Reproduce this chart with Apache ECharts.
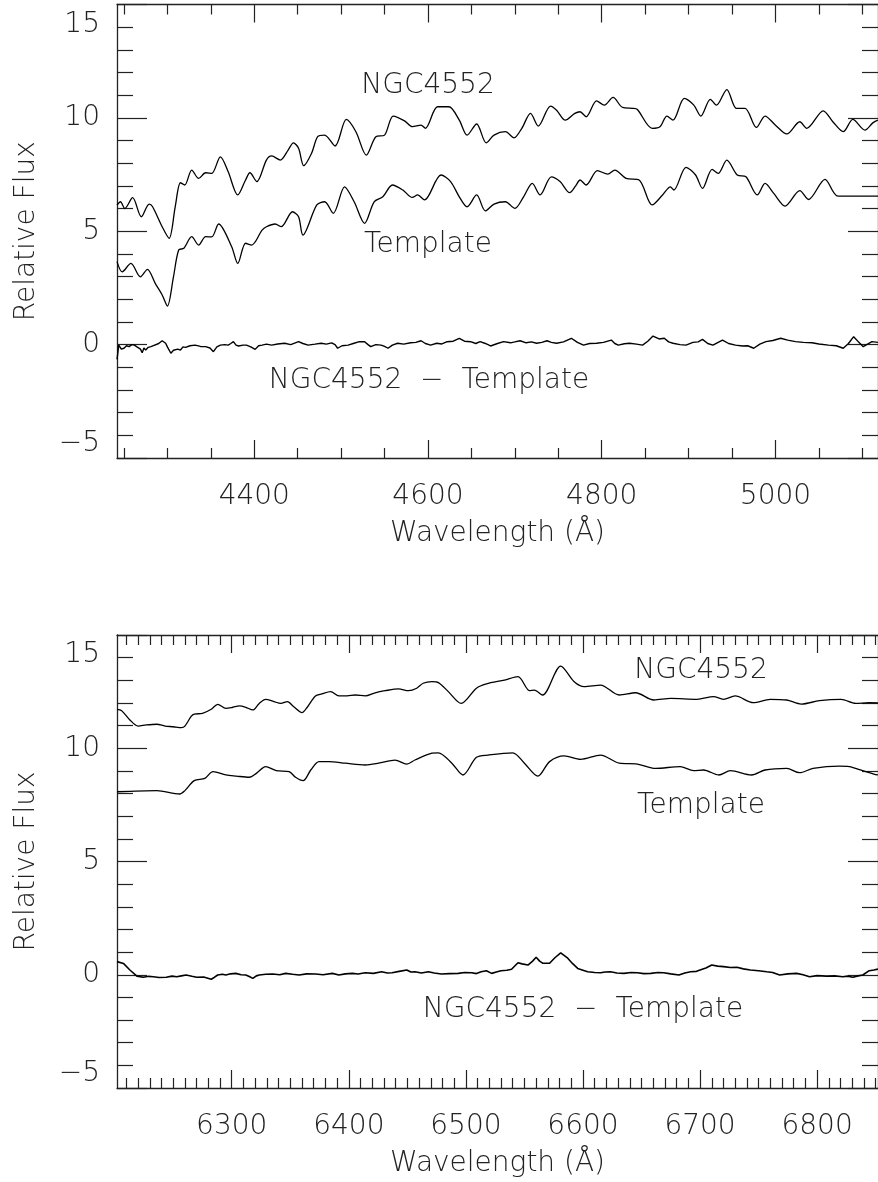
<!DOCTYPE html>
<html>
<head>
<meta charset="utf-8">
<script src="https://cdn.jsdelivr.net/npm/echarts@6/dist/echarts.min.js"></script>
<style>
html,body{margin:0;padding:0;background:#fff;overflow:hidden;}
#chart{width:878px;height:1182px;}
</style>
</head>
<body>
<div id="chart"></div>
<script>
// ---------- axis ranges / ticks ----------
const topRange = [4242, 5118];
const botRange = [6202, 6852];
const topMajorTicks = [4400, 4600, 4800, 5000];
const botMajorTicks = [6300, 6400, 6500, 6600, 6700, 6800];
const yTickLabels = [-5, 0, 5, 10, 15];

// ---------- top panel data (wavelength, relative flux) ----------
const topNgc = [[4242,6.15],[4246,6.30],[4251,6.0],[4260,6.48],[4270,5.64],[4279,6.2],[4283,6.08],[4294,5.2],[4302,4.69],[4309,6.08],[4315,7.14],[4320,7.04],[4328,7.7],[4336,7.33],[4344,7.58],[4351,7.55],[4361,8.28],[4370,7.62],[4381,6.6],[4390,7.26],[4395,7.58],[4403,7.19],[4414,8.14],[4420,8.32],[4430,8.14],[4439,8.58],[4445,8.90],[4451,8.66],[4457,7.89],[4466,8.44],[4473,9.17],[4481,9.24],[4493,8.76],[4506,9.93],[4517,9.39],[4529,8.36],[4540,9.17],[4550,9.24],[4560,10.08],[4573,9.87],[4582,9.61],[4592,9.68],[4597,9.54],[4611,10.49],[4624,10.49],[4636,9.90],[4645,9.24],[4656,9.73],[4667,8.90],[4676,9.24],[4689,9.39],[4699,9.12],[4708,9.54],[4718,10.2],[4727,9.64],[4741,10.52],[4748,10.34],[4758,9.90],[4769,10.2],[4775,10.27],[4782,10.05],[4794,10.75],[4803,10.56],[4813,10.90],[4824,10.46],[4836,10.42],[4841,10.37],[4858,9.54],[4867,9.61],[4875,10.08],[4882,9.90],[4895,10.86],[4906,10.56],[4914,10.08],[4925,10.82],[4932,10.56],[4944,11.25],[4955,10.42],[4965,10.42],[4978,9.58],[4988,10.08],[5000,9.68],[5013,9.29],[5028,9.83],[5036,9.54],[5055,10.31],[5066,9.83],[5078,9.39],[5089,9.93],[5103,9.46],[5112,9.78],[5118,9.9]];
const topTemplate = [[4242,3.66],[4248,3.21],[4258,3.58],[4269,2.99],[4277,3.32],[4286,2.70],[4294,2.19],[4300,1.70],[4307,2.99],[4313,4.17],[4319,4.25],[4328,4.76],[4336,4.39],[4344,4.76],[4351,4.75],[4359,5.32],[4374,4.32],[4381,3.58],[4390,4.47],[4397,4.39],[4409,5.05],[4414,5.2],[4424,5.32],[4431,5.2],[4444,5.86],[4451,5.64],[4456,4.83],[4472,6.16],[4481,6.30],[4491,5.79],[4504,6.96],[4515,6.30],[4527,5.35],[4538,6.30],[4548,6.52],[4559,7.04],[4571,6.82],[4582,6.49],[4588,6.60],[4596,6.38],[4615,7.48],[4626,7.19],[4636,6.52],[4645,6.08],[4656,6.60],[4666,5.90],[4676,6.20],[4689,6.30],[4700,6.01],[4710,6.52],[4720,7.11],[4729,6.60],[4742,7.40],[4752,7.19],[4763,6.70],[4770,7.0],[4775,7.26],[4782,7.04],[4795,7.67],[4807,7.52],[4815,7.70],[4828,7.33],[4843,7.26],[4858,6.16],[4870,6.60],[4879,6.96],[4883,6.82],[4897,7.82],[4908,7.48],[4916,6.89],[4927,7.73],[4934,7.55],[4944,8.14],[4956,7.48],[4966,7.40],[4979,6.60],[4988,7.11],[4998,6.67],[5011,6.11],[5028,6.79],[5038,6.40],[5057,7.29],[5072,6.55],[5118,6.55]];
const topResidual = [[4242,-0.65],[4243,-0.35],[4244,-0.02],[4247,-0.2],[4250,-0.16],[4253,-0.05],[4256,-0.09],[4259,0.0],[4262,-0.02],[4265,-0.1],[4267,-0.06],[4269,-0.2],[4271,-0.36],[4273,-0.15],[4275,-0.24],[4278,-0.12],[4281,-0.09],[4284,-0.04],[4286,-0.02],[4290,0.05],[4294,0.17],[4296,0.1],[4298,0.06],[4300,-0.1],[4304,-0.38],[4307,-0.25],[4309,-0.31],[4312,-0.2],[4315,-0.24],[4318,-0.1],[4321,-0.12],[4326,-0.05],[4332,-0.02],[4338,-0.08],[4344,-0.09],[4349,-0.15],[4353,-0.31],[4357,-0.1],[4361,-0.02],[4366,0.0],[4370,-0.02],[4373,0.05],[4376,0.13],[4379,-0.02],[4382,-0.06],[4387,-0.02],[4391,-0.02],[4396,-0.1],[4401,-0.21],[4405,-0.05],[4409,-0.02],[4414,0.02],[4420,-0.02],[4427,0.03],[4435,0.06],[4442,0.0],[4451,0.13],[4456,0.05],[4462,-0.02],[4470,0.02],[4477,0.06],[4483,0.02],[4489,0.08],[4493,0.0],[4496,-0.16],[4501,-0.05],[4508,-0.02],[4514,0.05],[4521,0.13],[4527,0.13],[4531,0.0],[4534,-0.09],[4540,0.0],[4546,-0.02],[4550,-0.08],[4554,-0.16],[4559,-0.02],[4565,0.06],[4572,0.02],[4580,0.08],[4586,0.1],[4592,0.17],[4597,0.05],[4603,-0.02],[4610,0.06],[4616,0.03],[4622,0.13],[4629,0.15],[4636,0.28],[4642,0.15],[4649,0.13],[4655,0.05],[4660,0.13],[4666,0.05],[4672,-0.06],[4680,0.05],[4687,0.13],[4695,0.08],[4700,0.12],[4706,0.17],[4713,0.08],[4719,0.12],[4725,0.06],[4731,0.1],[4737,0.17],[4742,0.1],[4748,0.06],[4756,0.12],[4765,0.28],[4772,0.1],[4779,-0.02],[4786,0.05],[4794,0.06],[4802,0.1],[4811,0.2],[4815,0.05],[4819,-0.02],[4826,0.04],[4832,0.06],[4840,0.02],[4847,-0.02],[4853,0.15],[4859,0.38],[4866,0.25],[4872,0.28],[4877,0.12],[4882,0.06],[4890,0.0],[4897,-0.02],[4905,0.1],[4911,0.12],[4916,0.23],[4922,0.05],[4928,-0.02],[4934,0.1],[4939,0.2],[4946,0.05],[4954,-0.02],[4962,-0.06],[4968,-0.05],[4975,-0.16],[4982,0.02],[4989,0.13],[4997,0.18],[5006,0.28],[5014,0.2],[5023,0.13],[5032,0.1],[5042,0.08],[5050,0.03],[5061,-0.02],[5070,-0.05],[5078,-0.16],[5084,0.05],[5090,0.35],[5096,0.1],[5101,-0.09],[5106,0.02],[5111,0.13],[5118,0.1]];

// ---------- bottom panel data ----------
const botNgc = [[6202,11.72],[6206,11.66],[6213,11.25],[6220,10.98],[6227,11.03],[6236,11.06],[6243,10.98],[6250,10.95],[6257,10.91],[6260,10.98],[6265.5,11.42],[6268,11.51],[6275,11.54],[6282.5,11.72],[6288,11.94],[6295,11.76],[6301,11.81],[6306.5,11.87],[6312,11.81],[6318,11.69],[6323.5,11.98],[6329,12.16],[6336,12.06],[6342,11.98],[6347.5,12.06],[6353,11.83],[6360,11.57],[6364.5,11.81],[6371.5,12.31],[6377,12.40],[6384.5,12.50],[6391.5,12.31],[6398.5,12.31],[6405.5,12.35],[6414,12.31],[6422.5,12.45],[6431,12.54],[6442.5,12.62],[6451,12.54],[6458,12.65],[6463.5,12.87],[6471,12.94],[6476.5,12.90],[6485,12.50],[6496,11.98],[6509,12.65],[6517.5,12.84],[6533,13.01],[6544.5,13.16],[6554.5,12.54],[6558.5,12.57],[6565.5,12.35],[6581,13.63],[6592.5,12.94],[6601,12.72],[6615,12.79],[6631,12.35],[6645,12.45],[6660.5,12.13],[6675,12.20],[6697.5,12.16],[6711.5,12.28],[6720,12.16],[6730,12.31],[6745.5,12.01],[6760,12.16],[6774,12.13],[6786.5,11.95],[6802,12.10],[6820.5,12.16],[6833,11.98],[6844.5,12.01],[6852,12.0]];
const botTemplate = [[6202,8.08],[6236,8.13],[6255.5,7.98],[6260,8.13],[6268,8.57],[6277,8.67],[6284,8.97],[6295,8.82],[6304,8.77],[6315,8.72],[6321,8.89],[6329,9.19],[6338,9.01],[6349,8.97],[6354.5,8.72],[6361,8.57],[6367.5,9.04],[6374.5,9.41],[6383,9.41],[6397,9.34],[6414,9.26],[6425.5,9.34],[6439.5,9.48],[6449.5,9.30],[6456.5,9.48],[6471,9.78],[6476.5,9.80],[6488,9.34],[6497.5,8.82],[6509,9.60],[6519,9.70],[6540,9.80],[6550,9.34],[6561.5,8.77],[6571.5,9.41],[6584,9.66],[6598,9.51],[6615,9.70],[6631,9.34],[6646.5,9.30],[6662,9.11],[6683,9.19],[6694.5,9.01],[6703,9.04],[6716,8.82],[6726,9.01],[6744,8.82],[6755.5,9.04],[6774,9.11],[6785,8.92],[6796.5,9.11],[6819,9.21],[6827.5,9.19],[6839,9.01],[6848.5,8.86],[6852,8.82]];
const botResidual = [[6202,0.58],[6207.5,0.50],[6213,0.21],[6219,-0.06],[6224.5,-0.11],[6229,-0.07],[6233,-0.09],[6238,-0.12],[6244,-0.11],[6249,-0.06],[6253,-0.09],[6257,-0.05],[6261,-0.01],[6266,-0.07],[6270,-0.11],[6276,-0.1],[6282.5,-0.20],[6285,-0.12],[6288,-0.01],[6292,0.02],[6295,-0.01],[6299,0.04],[6303.5,0.06],[6308,0.0],[6312,-0.01],[6315,-0.08],[6318,-0.16],[6321,-0.05],[6323.5,-0.01],[6329,0.02],[6335,0.03],[6341,0.0],[6346,0.06],[6352,0.02],[6357.5,-0.01],[6364,0.04],[6371.5,0.03],[6378,0.0],[6386,0.06],[6391.5,-0.01],[6397,0.04],[6403,0.06],[6408,0.03],[6414,0.09],[6421,0.06],[6428,0.13],[6433,0.08],[6437,0.09],[6443,0.15],[6449.5,0.21],[6453,0.12],[6456.5,0.13],[6462,0.08],[6468,0.13],[6473,0.08],[6479,0.03],[6486,0.05],[6493.5,0.06],[6499,0.1],[6505,0.09],[6509,0.05],[6513,0.13],[6517.5,0.18],[6522,0.06],[6526,0.12],[6530,0.18],[6535,0.2],[6539,0.24],[6544.5,0.53],[6548,0.48],[6553,0.43],[6557,0.6],[6560,0.77],[6563,0.6],[6565.5,0.51],[6571.5,0.51],[6576,0.75],[6581,0.97],[6587,0.73],[6591,0.5],[6595.5,0.28],[6600,0.2],[6604,0.13],[6610,0.1],[6615,0.09],[6619,0.12],[6623.5,0.13],[6629,0.08],[6635,0.06],[6641,0.1],[6646.5,0.09],[6652,0.05],[6658,0.06],[6664,0.1],[6669,0.09],[6675,0.04],[6682,-0.01],[6687,0.08],[6692,0.13],[6697,0.15],[6700,0.21],[6705,0.3],[6710,0.43],[6715,0.38],[6720,0.36],[6726,0.32],[6731.5,0.33],[6737,0.26],[6743,0.21],[6750,0.18],[6757,0.13],[6762,0.1],[6768,-0.01],[6775,0.04],[6782.5,0.06],[6788,0.0],[6793.5,-0.09],[6800,-0.04],[6808,-0.06],[6815,-0.05],[6822,-0.09],[6826,-0.06],[6830.5,-0.11],[6835,-0.05],[6839,-0.01],[6844.5,0.18],[6848.5,0.21],[6852,0.25]];

// ---------- build ----------
const FONT = '"DejaVu Sans", sans-serif';
const TXT = '#222';
function minorList(a, b, step, majors){
  const out = [];
  for (let v = a; v <= b; v += step) if (majors.indexOf(v) < 0) out.push(v);
  return out;
}
const topMinor = minorList(4250, 5100, 50, topMajorTicks);
const botMinor = minorList(6210, 6850, 10, botMajorTicks);

function xAxes(grid, range, majors, minors, withLabels){
  const base = {gridIndex: grid, type: 'value', min: range[0], max: range[1], splitLine: {show: false}};
  const res = [];
  ['bottom', 'top'].forEach(function(pos){
    const isLab = withLabels && pos === 'bottom';
    res.push(Object.assign({}, base, {
      position: pos,
      axisLine: {show: true, onZero: false, lineStyle: {color: TXT, width: 1.3}},
      axisTick: {show: true, inside: true, length: 18, customValues: majors, lineStyle: {color: TXT, width: 1.2}},
      axisLabel: {show: isLab, customValues: majors, margin: 25, color: TXT, fontFamily: FONT, fontSize: 28, fontWeight: 200,
        formatter: function(v){ return String(v); }},
      name: isLab ? 'Wavelength (Å)' : '', nameLocation: 'middle', nameGap: 62,
      nameTextStyle: {color: TXT, fontFamily: FONT, fontSize: 28, fontWeight: 200}
    }));
    res.push(Object.assign({}, base, {
      position: pos,
      axisLine: {show: false, onZero: false},
      axisTick: {show: true, inside: true, length: 10, customValues: minors, lineStyle: {color: TXT, width: 1.2}},
      axisLabel: {show: false}
    }));
  });
  return res;
}
function yAxes(grid){
  const res = [];
  ['left', 'right'].forEach(function(pos){
    const isLab = pos === 'left';
    res.push({
      gridIndex: grid, type: 'value', position: pos, min: -5, max: 15, interval: 5,
      splitLine: {show: false},
      axisLine: {show: true, onZero: false, lineStyle: {color: TXT, width: 1.3}},
      axisTick: {show: true, inside: true, length: 30, lineStyle: {color: TXT, width: 1.2}},
      minorTick: {show: true, splitNumber: 5, length: 16, lineStyle: {color: TXT, width: 1.2}},
      axisLabel: {show: isLab, margin: 17, color: TXT, fontFamily: FONT, fontSize: 28, fontWeight: 200,
        padding: [6, 0, 0, 0],
        formatter: function(v){ return yTickLabels.indexOf(v) >= 0 ? (v < 0 ? '\u2212' + Math.abs(v) : String(v)) : ''; },
        verticalAlignMinLabel: 'bottom', verticalAlignMaxLabel: 'top'},
      name: isLab ? 'Relative Flux' : '', nameLocation: 'middle', nameGap: 76,
      nameTextStyle: {color: TXT, fontFamily: FONT, fontSize: 28, fontWeight: 200}
    });
  });
  return res;
}
function lineSeries(data, xi, yi, smooth, width){
  return {type: 'line', data: data, xAxisIndex: xi, yAxisIndex: yi, showSymbol: false, symbol: 'none',
    smooth: smooth, lineStyle: {color: '#000', width: width}, silent: true, clip: true};
}
function label(text, x, y){
  return {type: 'text', x: x, y: y, style: {text: text, fill: TXT, font: '200 28px ' + FONT, textAlign: 'center', textVerticalAlign: 'middle'}};
}

const chart = echarts.init(document.getElementById('chart'), null, {renderer: 'canvas'});
chart.setOption({
  animation: false,
  backgroundColor: '#fff',
  grid: [
    {left: 117, top: 4.5, width: 765, height: 453.5},
    {left: 117, top: 635, width: 765, height: 453}
  ],
  xAxis: xAxes(0, topRange, topMajorTicks, topMinor, true).concat(xAxes(1, botRange, botMajorTicks, botMinor, true)),
  yAxis: yAxes(0).concat(yAxes(1)),
  series: [
    lineSeries(topNgc, 0, 0, 0.3, 1.3),
    lineSeries(topTemplate, 0, 0, 0.3, 1.3),
    lineSeries(topResidual, 0, 0, false, 1.4),
    lineSeries(botNgc, 4, 2, 0.3, 1.3),
    lineSeries(botTemplate, 4, 2, 0.3, 1.3),
    lineSeries(botResidual, 4, 2, false, 1.6)
  ],
  graphic: [
    label('NGC4552', 428, 86),
    label('Template', 428, 245),
    label('NGC4552  \u2212  Template', 429, 381),
    label('NGC4552', 701, 671),
    label('Template', 701, 806),
    label('NGC4552  \u2212  Template', 583, 1010)
  ]
});
</script>
</body>
</html>
